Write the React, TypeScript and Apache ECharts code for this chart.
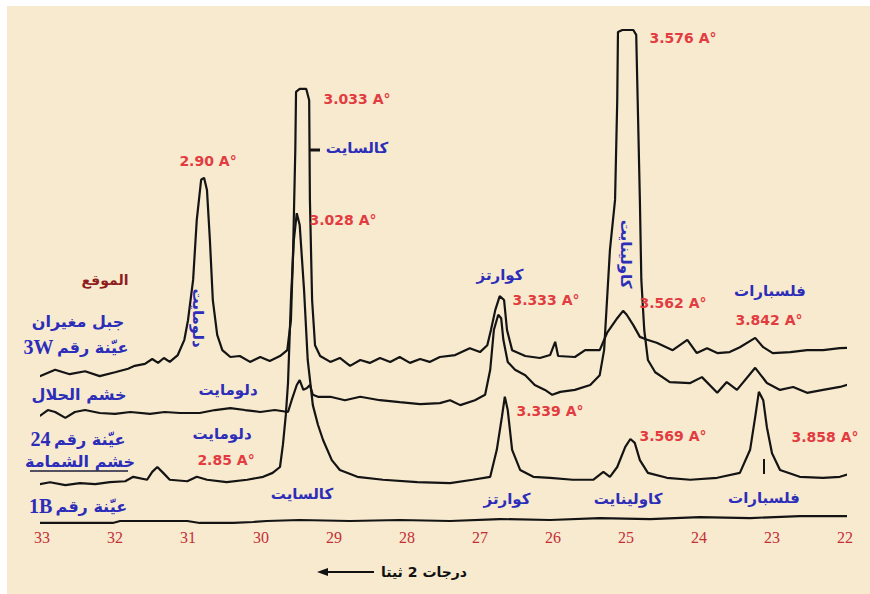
import React, { useEffect, useRef } from "react";
import * as echarts from "echarts";

// 2θ (degrees) vs relative intensity (stacked display, arbitrary units)
const sample3W: [number, number][] = [
  [33.23, 30.3], [33.03, 29.5], [32.82, 30.8], [32.62, 29.9], [32.41, 30.5], [32.21, 29.5], [32.0, 30.3],
  [31.82, 31.0], [31.73, 31.6], [31.59, 32.0], [31.49, 33.0], [31.41, 32.2], [31.33, 33.2], [31.25, 32.4],
  [31.14, 33.8], [31.05, 36.9], [31.0, 40.9], [30.93, 49.1], [30.88, 61.3], [30.82, 69.5], [30.78, 69.9],
  [30.74, 67.4], [30.7, 57.2], [30.66, 45.0], [30.6, 37.9], [30.53, 34.8], [30.42, 33.4], [30.29, 33.6],
  [30.15, 32.4], [30.01, 33.4], [29.88, 32.6], [29.74, 33.6], [29.64, 34.8], [29.59, 40.9], [29.56, 55.2],
  [29.53, 75.6], [29.52, 87.4], [29.47, 88.0], [29.38, 88.0], [29.34, 85.7], [29.33, 65.4], [29.3, 45.0],
  [29.26, 35.8], [29.19, 33.6], [29.05, 32.4], [28.92, 33.2], [28.78, 31.6], [28.64, 32.8], [28.51, 32.2],
  [28.37, 33.2], [28.23, 32.4], [28.1, 33.4], [27.96, 32.2], [27.82, 33.0], [27.69, 32.4], [27.55, 33.4],
  [27.34, 33.8], [27.14, 35.2], [27.0, 34.4], [26.9, 35.8], [26.85, 38.9], [26.79, 43.0], [26.73, 45.8],
  [26.67, 45.0], [26.63, 38.9], [26.56, 34.8], [26.38, 33.6], [26.18, 33.2], [26.04, 33.8], [25.97, 36.5],
  [25.93, 33.6], [25.7, 33.4], [25.56, 34.8], [25.36, 34.8], [25.26, 38.3], [25.12, 41.3], [25.04, 42.8],
  [24.99, 42.0], [24.9, 39.9], [24.81, 37.5], [24.71, 36.9], [24.58, 36.3], [24.36, 34.8], [24.16, 36.9],
  [24.03, 34.2], [23.89, 35.2], [23.75, 34.2], [23.58, 34.4], [23.44, 35.4], [23.23, 37.3], [23.12, 35.4],
  [22.99, 34.2], [22.75, 34.4], [22.52, 34.8], [22.3, 34.8], [22.07, 35.2], [21.75, 35.4],
];

const sample24: [number, number][] = [
  [33.23, 22.2], [33.14, 23.0], [33.03, 21.4], [32.92, 22.6], [32.82, 22.2], [32.68, 21.0], [32.55, 22.2],
  [32.41, 22.6], [32.21, 22.0], [32.0, 21.8], [31.79, 22.2], [31.52, 21.8], [31.32, 22.2], [31.11, 22.0],
  [30.84, 22.0], [30.63, 22.6], [30.42, 23.0], [30.22, 22.6], [30.01, 22.2], [29.81, 22.6], [29.63, 22.2],
  [29.58, 24.6], [29.51, 27.7], [29.47, 28.7], [29.42, 26.7], [29.37, 27.1], [29.33, 27.7], [29.29, 25.7],
  [29.22, 25.3], [29.05, 25.3], [28.85, 24.6], [28.64, 25.3], [28.37, 24.6], [28.1, 24.2], [27.82, 23.8],
  [27.55, 24.0], [27.41, 24.6], [27.27, 23.6], [27.07, 24.6], [26.93, 25.7], [26.86, 30.8], [26.81, 38.9],
  [26.75, 42.0], [26.71, 41.3], [26.68, 36.9], [26.62, 32.4], [26.52, 30.8], [26.38, 29.7], [26.25, 27.7],
  [26.11, 26.7], [26.01, 25.7], [25.9, 26.3], [25.7, 26.7], [25.49, 27.7], [25.36, 29.7], [25.3, 34.8],
  [25.26, 45.0], [25.22, 55.2], [25.15, 65.4], [25.12, 85.7], [25.11, 99.6], [25.05, 100], [24.9, 100],
  [24.86, 99.0], [24.84, 85.7], [24.81, 65.4], [24.79, 49.1], [24.75, 38.9], [24.7, 32.8], [24.6, 30.3],
  [24.4, 28.3], [24.12, 28.1], [23.96, 29.3], [23.75, 26.1], [23.62, 28.3], [23.48, 26.7], [23.23, 31.2],
  [23.07, 28.1], [22.89, 26.7], [22.71, 27.3], [22.52, 26.1], [22.3, 26.7], [22.07, 27.3], [21.89, 28.1],
  [21.75, 29.1],
];

const sampleShamama: [number, number][] = [
  [33.27, 7.7], [33.1, 7.3], [32.89, 7.9], [32.68, 7.3], [32.48, 7.7], [32.27, 7.5], [32.07, 7.9],
  [31.86, 8.1], [31.75, 9.0], [31.56, 8.4], [31.49, 10.0], [31.42, 11.0], [31.34, 9.8], [31.25, 8.4],
  [31.01, 8.1], [30.88, 9.0], [30.74, 8.4], [30.47, 7.9], [30.19, 8.4], [29.97, 9.0], [29.84, 9.8],
  [29.74, 11.0], [29.7, 15.5], [29.66, 21.6], [29.63, 28.1], [29.59, 45.0], [29.55, 57.2], [29.51, 62.7],
  [29.47, 60.3], [29.41, 47.0], [29.36, 32.8], [29.29, 23.6], [29.22, 19.6], [29.15, 16.5], [29.03, 12.4],
  [28.92, 10.4], [28.68, 9.0], [28.33, 8.4], [27.86, 7.9], [27.41, 7.7], [27.1, 8.4], [26.86, 9.0],
  [26.77, 14.5], [26.7, 21.2], [26.66, 25.3], [26.62, 22.6], [26.56, 14.5], [26.45, 10.4], [26.27, 9.0],
  [26.04, 8.8], [25.73, 8.4], [25.45, 8.4], [25.31, 10.0], [25.22, 9.0], [25.12, 11.0], [25.01, 15.1],
  [24.94, 16.7], [24.88, 15.9], [24.81, 12.4], [24.7, 9.8], [24.44, 8.8], [24.12, 8.4], [23.75, 8.8],
  [23.44, 9.8], [23.3, 14.5], [23.23, 21.2], [23.18, 26.3], [23.12, 24.6], [23.07, 19.1], [23.0, 13.8],
  [22.89, 10.4], [22.62, 9.0], [22.3, 8.8], [22.07, 9.0], [21.89, 9.8], [21.75, 10.8],
];

const sample1B: [number, number][] = [
  [33.41, -0.2], [33.03, -0.4], [32.66, -0.4], [32.03, -0.4], [31.93, 0.0], [31.01, 0.0], [30.84, -0.4],
  [30.38, -0.4], [30.11, -0.2], [29.92, 0.0], [29.47, 0.2], [28.78, 0.0], [28.1, 0.2], [27.41, 0.0],
  [26.73, 0.4], [26.04, 0.2], [25.36, 0.6], [24.67, 0.4], [23.99, 0.8], [23.3, 0.6], [22.62, 1.0],
  [21.73, 1.0],
];

const dSpacingLabels = [
  "2.90 A°", "3.033 A°", "3.028 A°", "3.576 A°", "3.333 A°", "3.562 A°",
  "3.842 A°", "3.339 A°", "3.569 A°", "3.858 A°", "2.85 A°",
];
const dSpacingPos: [number, number][] = [
  [208, 161], [357, 99], [343, 220], [683, 38], [546, 300], [673, 303],
  [769, 320], [550, 411], [673, 436], [825, 437], [226, 460],
];

const mineralLabels = [
  "كالسايت", "كوارتز", "فلسبارات", "دلومايت", "دلومايت",
  "كالسايت", "كوارتز", "كاولينايت", "فلسبارات",
];
const mineralPos: [number, number][] = [
  [357, 148], [500, 275], [770, 291], [228, 390], [222, 434],
  [302, 494], [507, 499], [628, 499], [764, 498],
];
const verticalMinerals = ["دلومايت", "كاولينايت"];
const verticalPos: [number, number][] = [[198, 318], [626, 254]];

const siteHeader = "الموقع";
const siteNames = ["جبل مغيران", "خشم الحلال", "خشم الشمامة"];
const siteNamePos: [number, number][] = [[78, 321], [79, 394], [80, 461]];
const sampleIds = ["3W", "24", "1B"];
const sampleIdPos: [number, number][] = [[76, 347], [78, 439], [78, 506]];
const sampleWord = "عيّنة رقم";
const axisTitle = "درجات 2 ثيتا";

const CREAM = "#f7eacf";
const INK = "#141414";
const BLUE = "#2c2db8";
const RED = "#e23c40";
const TICK_RED = "#c42f36";
const HEADER_RED = "#8e1d1d";

function txt(text: string, x: number, y: number, fill: string, size: number, family: string, rotation = 0, weight = "bold") {
  return {
    type: "text",
    x,
    y,
    rotation,
    z: 20,
    silent: true,
    style: {
      text,
      fill,
      fontSize: size,
      fontWeight: weight,
      fontFamily: family,
      align: "center",
      verticalAlign: "middle",
      textAlign: "center",
      textVerticalAlign: "middle",
    },
  };
}

export default function App() {
  const ref = useRef<HTMLDivElement>(null);
  useEffect(() => {
    if (!ref.current) return;
    const chart = echarts.init(ref.current, null, { renderer: "svg" });
    const trace = (name: string, data: [number, number][]) => ({
      type: "line",
      name,
      data,
      symbol: "none",
      clip: false,
      silent: true,
      lineStyle: { color: INK, width: 2.2 },
    });
    const AR = '"DejaVu Sans", "Noto Sans", sans-serif';
    const graphic: any[] = [
      { type: "rect", shape: { x: 0, y: 0, width: 870, height: 6 }, style: { fill: "#ffffff" }, z: 30, silent: true },
      { type: "rect", shape: { x: 0, y: 0, width: 7, height: 594 }, style: { fill: "#ffffff" }, z: 30, silent: true },
    ];
    dSpacingLabels.forEach((t, i) =>
      graphic.push(txt(t, dSpacingPos[i][0], dSpacingPos[i][1], RED, 14, AR))
    );
    mineralLabels.forEach((t, i) => graphic.push(txt(t, mineralPos[i][0], mineralPos[i][1], BLUE, 15, AR)));
    verticalMinerals.forEach((t, i) =>
      graphic.push(txt(t, verticalPos[i][0], verticalPos[i][1], BLUE, 15, AR, -Math.PI / 2))
    );
    graphic.push(txt(siteHeader, 105, 280, HEADER_RED, 14, AR));
    siteNames.forEach((t, i) => graphic.push(txt(t, siteNamePos[i][0], siteNamePos[i][1], BLUE, 16, AR)));
    graphic.push({ type: "line", shape: { x1: 30, y1: 471, x2: 128, y2: 471 }, style: { stroke: "#1c1c3a", lineWidth: 1.6 }, z: 20, silent: true });
    sampleIds.forEach((id, i) =>
      graphic.push({
        type: "text",
        x: sampleIdPos[i][0],
        y: sampleIdPos[i][1],
        z: 20,
        silent: true,
        style: {
          text: `{n|${id}} {a|${sampleWord}}`,
          align: "center",
          verticalAlign: "middle",
          textAlign: "center",
          textVerticalAlign: "middle",
          rich: {
            n: { fill: BLUE, color: BLUE, fontSize: 20, fontFamily: '"Liberation Serif", serif', fontWeight: "bold" },
            a: { fill: BLUE, color: BLUE, fontSize: 16, fontFamily: AR, fontWeight: "bold" },
          },
        },
      })
    );
    graphic.push(txt(axisTitle, 424, 572, "#111", 14, AR));
    graphic.push({ type: "line", shape: { x1: 326, y1: 572, x2: 374, y2: 572 }, style: { stroke: "#111", lineWidth: 2 }, z: 20, silent: true });
    graphic.push({ type: "polygon", shape: { points: [[317, 572], [328, 568], [328, 576]] }, style: { fill: "#111" }, z: 20, silent: true });
    graphic.push({ type: "line", shape: { x1: 310, y1: 150, x2: 320, y2: 150 }, style: { stroke: INK, lineWidth: 3 }, z: 20, silent: true });
    graphic.push({ type: "line", shape: { x1: 764, y1: 459, x2: 764, y2: 474 }, style: { stroke: INK, lineWidth: 2 }, z: 20, silent: true });

    chart.setOption({
      animation: false,
      backgroundColor: CREAM,
      grid: { left: 42, right: 25, top: 30, bottom: 63.18 },
      xAxis: {
        type: "value",
        min: 22,
        max: 33,
        interval: 1,
        inverse: true,
        axisLine: { show: false, onZero: false },
        offset: -9.82,
        axisTick: { show: false },
        splitLine: { show: false },
        axisLabel: { color: TICK_RED, fontFamily: '"Liberation Serif", serif', fontSize: 16, margin: 8 },
      },
      yAxis: { type: "value", min: -2, max: 100, show: false },
      series: [
        trace("3W", sample3W),
        trace("24", sample24),
        trace("Shamama", sampleShamama),
        trace("1B", sample1B),
      ],
      graphic,
    });
    return () => chart.dispose();
  }, []);
  return (
    <div style={{ position: "absolute", left: 0, top: 0, width: 870, height: 594, background: "#fff" }}>
      <div ref={ref} style={{ width: 870, height: 594 }} />
    </div>
  );
}
